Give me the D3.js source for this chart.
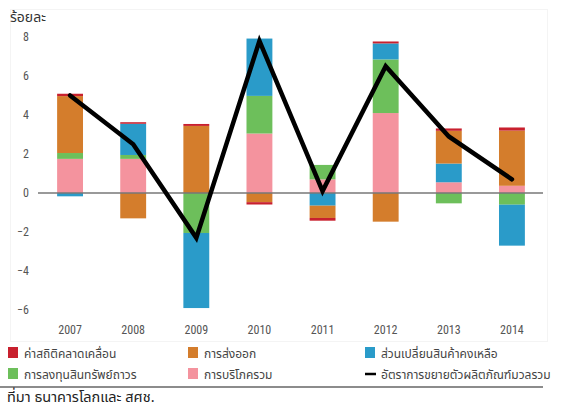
<!DOCTYPE html>
<html>
<head>
<meta charset="utf-8">
<script src="https://cdn.jsdelivr.net/npm/d3@7"></script>
<style>
  body { margin: 0; background: #fff; }
  svg { display: block; }
</style>
</head>
<body>
<div class="chart"></div>
<script>
let years = ['2007', '2008', '2009', '2010', '2011', '2012', '2013', '2014'];
let consumption = [1.75, 1.75, 0, 3.05, 0.7, 4.1, 0.55, 0.37];
let investment = [0.3, 0.2, -2.05, 1.93, 0.74, 2.75, -0.53, -0.6];
let inventory = [-0.17, 1.6, -3.85, 2.94, -0.65, 0.82, 0.96, -2.1];
let exports = [2.92, -1.3, 3.44, -0.47, -0.63, -1.47, 1.68, 2.83];
let discrepancy = [0.12, 0.08, 0.1, -0.12, -0.14, 0.1, 0.12, 0.16];
let gdp = [5.0, 2.5, -2.3, 7.8, 0.1, 6.5, 2.9, 0.7];
let yTicks = [-6, -4, -2, 0, 2, 4, 6, 8];

let series = [
  {key: 'consumption', label: 'การบริโภครวม', color: '#f4939e', values: consumption},
  {key: 'investment', label: 'การลงทุนสินทรัพย์ถาวร', color: '#6dbf5b', values: investment},
  {key: 'inventory', label: 'ส่วนเปลี่ยนสินค้าคงเหลือ', color: '#2a9bc9', values: inventory},
  {key: 'exports', label: 'การส่งออก', color: '#d47d2c', values: exports},
  {key: 'discrepancy', label: 'ค่าสถิติคลาดเคลื่อน', color: '#c8202e', values: discrepancy}
];

let W = 563, H = 408;
let thai = '"Noto Sans Thai", "Tahoma", "Loma", "Garuda", sans-serif';
let narrow = '"Liberation Sans Narrow", "Roboto Condensed", "Roboto", sans-serif';

let svg = d3.select('.chart')
  .append('svg')
    .attr('width', W)
    .attr('height', H);

// faint panel frame
svg.append('rect')
  .attr('x', 10.5).attr('y', 9.5)
  .attr('width', 537).attr('height', 332)
  .style('fill', 'none')
  .style('stroke', '#f4f4f4');

let rows = years.map((y, i) => {
  let r = {year: y};
  series.forEach(s => r[s.key] = s.values[i]);
  return r;
});

let stacked = d3.stack()
  .keys(series.map(s => s.key))
  .offset(d3.stackOffsetDiverging)(rows);

let x = d3.scaleBand()
  .domain(years)
  .range([38.5, 543.5])
  .paddingInner(0.59)
  .paddingOuter(0.295);

let y = d3.scaleLinear()
  .domain([-6, 8])
  .range([310, 37]);

// y labels, no axis line
let yAxis = d3.axisLeft(y).tickValues(yTicks).tickSize(0).tickPadding(0);
let gy = svg.append('g')
  .attr('transform', 'translate(29, 0)')
  .call(yAxis);
gy.select('.domain').remove();
gy.selectAll('text')
  .style('font-family', narrow)
  .style('font-size', '12px')
  .style('fill', '#555');

// x labels
let xAxis = d3.axisBottom(x).tickSize(0).tickPadding(0);
let gx = svg.append('g')
  .attr('transform', 'translate(0, 325)')
  .call(xAxis);
gx.select('.domain').remove();
gx.selectAll('text')
  .style('font-family', narrow)
  .style('font-size', '12px')
  .style('fill', '#555');

// bars
svg.append('g')
  .selectAll('g')
  .data(stacked)
  .join('g')
    .style('fill', (d, i) => series[i].color)
  .selectAll('rect')
  .data(d => d)
  .join('rect')
    .attr('x', d => x(d.data.year))
    .attr('width', x.bandwidth())
    .attr('y', d => y(Math.max(d[0], d[1])))
    .attr('height', d => Math.abs(y(d[0]) - y(d[1])));

// zero line
svg.append('line')
  .attr('x1', 38).attr('x2', 543)
  .attr('y1', y(0)).attr('y2', y(0))
  .style('stroke', '#777')
  .style('stroke-width', 1.5);

// gdp line
let line = d3.line()
  .x((d, i) => x(years[i]) + x.bandwidth() / 2)
  .y(d => y(d));

svg.append('path')
  .datum(gdp)
  .attr('d', line)
  .style('fill', 'none')
  .style('stroke', '#000')
  .style('stroke-width', 4.5)
  .style('stroke-linejoin', 'miter')
  .style('stroke-linecap', 'round');

// y unit
svg.append('text')
  .attr('x', 10).attr('y', 22)
  .text('ร้อยละ')
  .style('font-family', thai)
  .style('font-size', '14px')
  .style('fill', '#333');

// legend
let legendItems = [
  {label: series[4].label, color: series[4].color, x: 8, y: 353},
  {label: series[3].label, color: series[3].color, x: 188, y: 353},
  {label: series[2].label, color: series[2].color, x: 365, y: 353},
  {label: series[1].label, color: series[1].color, x: 8, y: 374},
  {label: series[0].label, color: series[0].color, x: 188, y: 374},
  {label: 'อัตราการขยายตัวผลิตภัณฑ์มวลรวม', color: '#000', x: 365, y: 374, isLine: true}
];

let lg = svg.append('g')
  .selectAll('g')
  .data(legendItems)
  .join('g')
    .attr('transform', d => `translate(${d.x}, ${d.y})`);

lg.filter(d => !d.isLine).append('rect')
  .attr('x', 0).attr('y', -6)
  .attr('width', 10).attr('height', 11)
  .style('fill', d => d.color);

lg.filter(d => d.isLine).append('line')
  .attr('x1', 0).attr('x2', 11)
  .attr('y1', 0).attr('y2', 0)
  .style('stroke', '#000')
  .style('stroke-width', 2.5);

lg.append('text')
  .attr('x', 16).attr('y', 5)
  .text(d => d.label)
  .style('font-family', thai)
  .style('font-size', '12px')
  .style('fill', '#444');

svg.append('line')
  .attr('x1', 0).attr('x2', 543)
  .attr('y1', 387).attr('y2', 387)
  .style('stroke', '#666')
  .style('stroke-width', 1.5);

svg.append('text')
  .attr('x', 7).attr('y', 402)
  .text('ที่มา ธนาคารโลกและ สศช.')
  .style('font-family', thai)
  .style('font-size', '14.5px')
  .style('fill', '#222');
</script>
</body>
</html>
